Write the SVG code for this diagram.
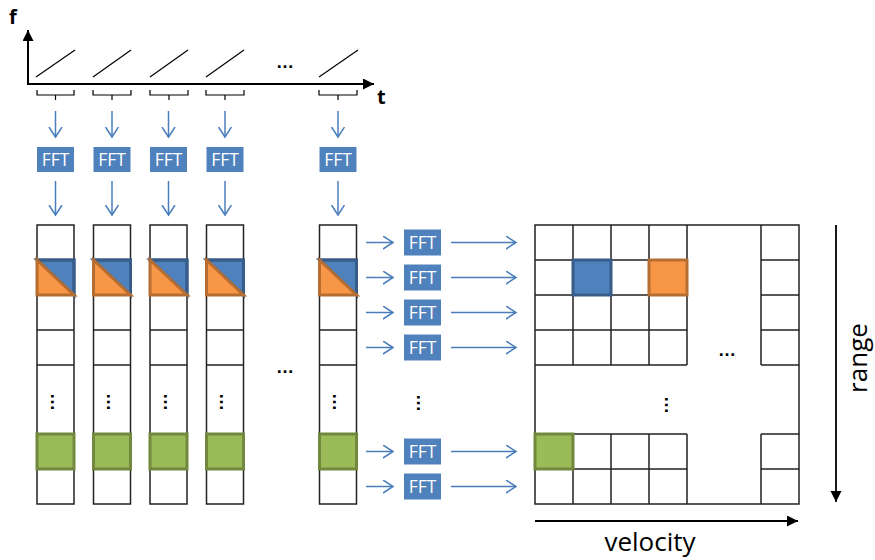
<svg xmlns="http://www.w3.org/2000/svg" width="875" height="560" viewBox="0 0 875 560">
<style>
.ax{stroke:#000;stroke-width:2;fill:none}
.thin{stroke:#000;stroke-width:1.2;fill:none}
.cell{stroke:#222;stroke-width:1.5;fill:none}
.bar{stroke:#4a7ebb;stroke-width:1.5;fill:none}
.fftb{fill:#4f81bd}
.fftt{fill:#fff;font-family:"Open Sans","Liberation Sans",sans-serif;font-size:17.5px;text-anchor:middle}
.lbl{font-family:"Open Sans","Liberation Sans",sans-serif;font-weight:bold;font-size:20px}
.big{font-family:"Open Sans","Liberation Sans",sans-serif;font-size:26px}
.dots{font-family:"Liberation Sans",sans-serif;font-weight:bold;font-size:18px;text-anchor:middle}
.blue{fill:#4f81bd;stroke:#385d8a;stroke-width:3}
.orange{fill:#f79646;stroke:#b66d31;stroke-width:3}
.green{fill:#9bbb59;stroke:#71893f;stroke-width:3}
</style>
<defs>
<marker id="oa" markerUnits="userSpaceOnUse" markerWidth="14" markerHeight="16" refX="10" refY="7" orient="auto">
<path d="M0,0.5 L10,7 L0,13.5" fill="none" stroke="#4a7ebb" stroke-width="1.5"/>
</marker>
<marker id="fa" markerUnits="userSpaceOnUse" markerWidth="14" markerHeight="14" refX="11" refY="5.5" orient="auto">
<path d="M0,0 L11,5.5 L0,11 Z" fill="#000"/>
</marker>
</defs>

<g id="time-axis">
<path class="ax" d="M28,84 V30" marker-end="url(#fa)"/>
<path class="ax" d="M27,84 H374" marker-end="url(#fa)"/>
<text class="lbl" x="9" y="24">f</text>
<text class="lbl" x="377" y="104">t</text>
<g class="thin">
<path d="M36,77 L75,50"/><path d="M93,77 L131,50"/><path d="M150,77 L188,50"/><path d="M206,77 L244,50"/><path d="M319,77 L358,50"/>
</g>
<text class="dots" x="285" y="68">…</text>
<g class="thin">
<path d="M37,90 V95 H74 V90 M55.5,95 V100"/>
<path d="M93,90 V95 H131 V90 M112,95 V100"/>
<path d="M150,90 V95 H188 V90 M169,95 V100"/>
<path d="M206,90 V95 H244 V90 M225,95 V100"/>
<path d="M319,90 V95 H357 V90 M338,95 V100"/>
</g>
</g>

<g id="fft-chirps">
<rect class="fftb" x="37" y="147" width="37" height="25"/><text class="fftt" x="55.5" y="166">FFT</text>
<rect class="fftb" x="93.5" y="147" width="37" height="25"/><text class="fftt" x="112" y="166">FFT</text>
<rect class="fftb" x="150" y="147" width="37" height="25"/><text class="fftt" x="168.5" y="166">FFT</text>
<rect class="fftb" x="206.5" y="147" width="37" height="25"/><text class="fftt" x="225" y="166">FFT</text>
<rect class="fftb" x="319.5" y="147" width="37" height="25"/><text class="fftt" x="338" y="166">FFT</text>
</g>

<g id="columns">
<g id="col1">
<rect class="cell" x="37" y="225" width="37" height="279"/>
<path class="cell" d="M37,260H74M37,295H74M37,330H74M37,365H74M37,434H74M37,469H74"/>
<path class="blue" d="M37,260 H74 V295 Z" stroke="none"/><path d="M37,260 H74 V295" fill="none" stroke="#385d8a" stroke-width="3"/>
<path class="orange" d="M74,295 H37 V260 Z"/>
<rect class="green" x="37" y="434" width="37" height="35"/>
<text class="dots" transform="translate(55.5,402) rotate(90)" y="5">…</text>
</g>
<g id="col2">
<rect class="cell" x="93.5" y="225" width="37" height="279"/>
<path class="cell" d="M93.5,260H130.5M93.5,295H130.5M93.5,330H130.5M93.5,365H130.5M93.5,434H130.5M93.5,469H130.5"/>
<path class="blue" d="M93.5,260 H130.5 V295 Z" stroke="none"/><path d="M93.5,260 H130.5 V295" fill="none" stroke="#385d8a" stroke-width="3"/>
<path class="orange" d="M130.5,295 H93.5 V260 Z"/>
<rect class="green" x="93.5" y="434" width="37" height="35"/>
<text class="dots" transform="translate(112,402) rotate(90)" y="5">…</text>
</g>
<g id="col3">
<rect class="cell" x="150" y="225" width="37" height="279"/>
<path class="cell" d="M150,260H187M150,295H187M150,330H187M150,365H187M150,434H187M150,469H187"/>
<path class="blue" d="M150,260 H187 V295 Z" stroke="none"/><path d="M150,260 H187 V295" fill="none" stroke="#385d8a" stroke-width="3"/>
<path class="orange" d="M187,295 H150 V260 Z"/>
<rect class="green" x="150" y="434" width="37" height="35"/>
<text class="dots" transform="translate(168.5,402) rotate(90)" y="5">…</text>
</g>
<g id="col4">
<rect class="cell" x="206.5" y="225" width="37" height="279"/>
<path class="cell" d="M206.5,260H243.5M206.5,295H243.5M206.5,330H243.5M206.5,365H243.5M206.5,434H243.5M206.5,469H243.5"/>
<path class="blue" d="M206.5,260 H243.5 V295 Z" stroke="none"/><path d="M206.5,260 H243.5 V295" fill="none" stroke="#385d8a" stroke-width="3"/>
<path class="orange" d="M243.5,295 H206.5 V260 Z"/>
<rect class="green" x="206.5" y="434" width="37" height="35"/>
<text class="dots" transform="translate(225,402) rotate(90)" y="5">…</text>
</g>
<g id="col5">
<rect class="cell" x="319.5" y="225" width="37" height="279"/>
<path class="cell" d="M319.5,260H356.5M319.5,295H356.5M319.5,330H356.5M319.5,365H356.5M319.5,434H356.5M319.5,469H356.5"/>
<path class="blue" d="M319.5,260 H356.5 V295 Z" stroke="none"/><path d="M319.5,260 H356.5 V295" fill="none" stroke="#385d8a" stroke-width="3"/>
<path class="orange" d="M356.5,295 H319.5 V260 Z"/>
<rect class="green" x="319.5" y="434" width="37" height="35"/>
<text class="dots" transform="translate(338,402) rotate(90)" y="5">…</text>
</g>
<text class="dots" x="285" y="373">…</text>
</g>

<g id="fft-rows">
<rect class="fftb" x="404" y="229.5" width="37" height="26"/><text class="fftt" x="422.5" y="248.5">FFT</text>
<rect class="fftb" x="404" y="264.5" width="37" height="26"/><text class="fftt" x="422.5" y="283.5">FFT</text>
<rect class="fftb" x="404" y="299.5" width="37" height="26"/><text class="fftt" x="422.5" y="318.5">FFT</text>
<rect class="fftb" x="404" y="334.5" width="37" height="26"/><text class="fftt" x="422.5" y="353.5">FFT</text>
<rect class="fftb" x="404" y="438.5" width="37" height="26"/><text class="fftt" x="422.5" y="457.5">FFT</text>
<rect class="fftb" x="404" y="473.5" width="37" height="26"/><text class="fftt" x="422.5" y="492.5">FFT</text>
<text class="dots" transform="translate(422,403) rotate(90)" y="5">…</text>
</g>

<g id="range-doppler-map">
<rect class="cell" x="535" y="225" width="264" height="279"/>
<path class="cell" d="M535,260H687M535,295H687M535,330H687M535,365H687M535,434H687M535,469H687
M761,260H799M761,295H799M761,330H799M761,365H799M761,434H799M761,469H799
M573,225V365M611,225V365M649,225V365M687,225V365M761,225V365
M573,434V504M611,434V504M649,434V504M687,434V504M761,434V504"/>
<rect class="blue" x="573" y="260" width="38" height="35"/>
<rect class="orange" x="649" y="260" width="38" height="35"/>
<rect class="green" x="535" y="434" width="38" height="35"/>
<text class="dots" x="727" y="356">…</text>
<text class="dots" transform="translate(670,405) rotate(90)" y="5">…</text>
</g>

<g id="axes-labels">
<path d="M836,225 V502" stroke="#000" stroke-width="1.8" marker-end="url(#fa)"/>
<path d="M535,521 H798" stroke="#000" stroke-width="1.8" marker-end="url(#fa)"/>
<text class="big" transform="translate(867,358) rotate(-90)" text-anchor="middle">range</text>
<text class="big" x="650" y="551" text-anchor="middle">velocity</text>
</g>

<g id="connectors">
<path class="bar" d="M55.5,111V137" marker-end="url(#oa)"/>
<path class="bar" d="M112,111V137" marker-end="url(#oa)"/>
<path class="bar" d="M168.5,111V137" marker-end="url(#oa)"/>
<path class="bar" d="M225,111V137" marker-end="url(#oa)"/>
<path class="bar" d="M338,111V137" marker-end="url(#oa)"/>
<path class="bar" d="M55.5,181V215" marker-end="url(#oa)"/>
<path class="bar" d="M112,181V215" marker-end="url(#oa)"/>
<path class="bar" d="M168.5,181V215" marker-end="url(#oa)"/>
<path class="bar" d="M225,181V215" marker-end="url(#oa)"/>
<path class="bar" d="M338,181V215" marker-end="url(#oa)"/>
<path class="bar" d="M366,242.5H393" marker-end="url(#oa)"/>
<path class="bar" d="M366,277.5H393" marker-end="url(#oa)"/>
<path class="bar" d="M366,312.5H393" marker-end="url(#oa)"/>
<path class="bar" d="M366,347.5H393" marker-end="url(#oa)"/>
<path class="bar" d="M366,451.5H393" marker-end="url(#oa)"/>
<path class="bar" d="M366,486.5H393" marker-end="url(#oa)"/>
<path class="bar" d="M451,242.5H516" marker-end="url(#oa)"/>
<path class="bar" d="M451,277.5H516" marker-end="url(#oa)"/>
<path class="bar" d="M451,312.5H516" marker-end="url(#oa)"/>
<path class="bar" d="M451,347.5H516" marker-end="url(#oa)"/>
<path class="bar" d="M451,451.5H516" marker-end="url(#oa)"/>
<path class="bar" d="M451,486.5H516" marker-end="url(#oa)"/>
</g>
</svg>
